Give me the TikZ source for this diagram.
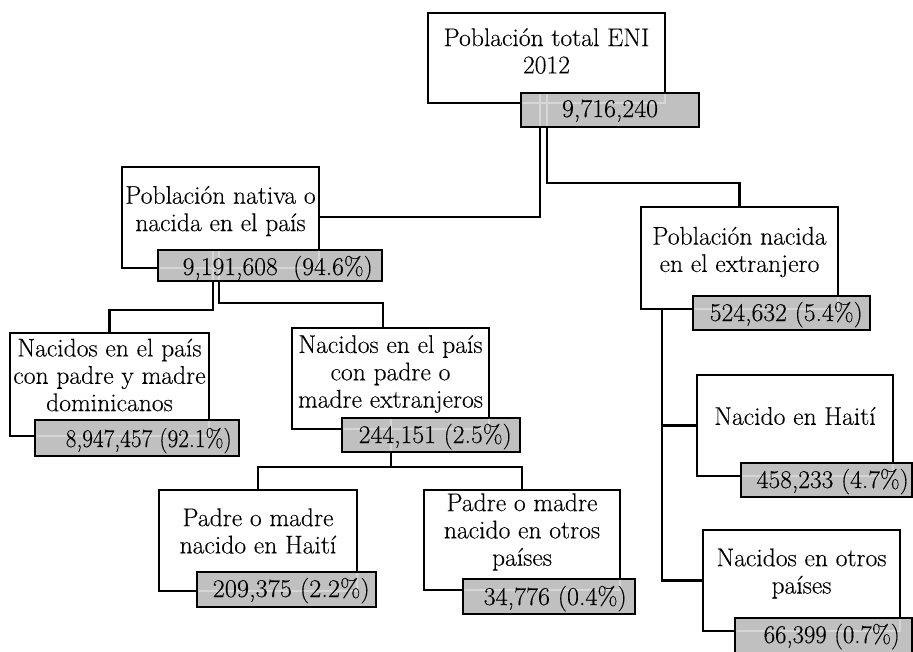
\documentclass[tikz,border=0pt]{standalone}
\usepackage{fontspec}
\usepackage{graphicx}
\newfontfamily\heavy{Latin Modern Roman}[FakeBold=0.2]
\definecolor{boxgray}{RGB}{192,192,192}
\definecolor{lightln}{RGB}{214,214,214}
\newdimen\mypx \mypx=0.75pt
\newcommand\fitw[2]{\resizebox{#1\mypx}{\height}{#2}}
\tikzset{
  wbox/.style={draw=black, fill=white, line width=2pt, inner sep=0pt, outer sep=0pt},
  gbox/.style={draw=black, fill=boxgray, line width=2pt, inner sep=0pt, outer sep=0pt},
  conn/.style={draw=black, line width=1.8pt},
  faint/.style={draw=lightln, line width=1.6pt},
  txt/.style={align=center, inner sep=0pt, font=\heavy\fontsize{19.2}{20.5}\selectfont},
  num/.style={inner sep=0pt, font=\heavy\fontsize{19.2}{20.5}\selectfont}
}
\newcommand\bx[6]{\node[#6, minimum width={(#4-#2)*0.75pt}, minimum height={(#5-#3)*0.75pt}] (#1) at ({(#2+#4)/2},{(#3+#5)/2}) {};}
\newcommand\alllines[1]{%
  \foreach \w in {rootw,natw,domw,padw,phw,pow,extw,nhw,now}{\draw[#1] (\w.north west) rectangle (\w.south east);}
  \draw[#1] (rootg.north -| j1) |- (natw.east |- j1);
  \draw[#1] (rootg.north -| j2) |- (extw.north |- j2) -- (extw.north);
  \draw[#1] (natg.north -| j3) |- (domw.north |- j3) -- (domw.north);
  \draw[#1] (natg.north -| j4) |- (k4 |- j4) -- (k4 |- padw.north);
  \draw[#1] (padg.north -| j5) -- (j5);
  \draw[#1] (phw.north) -- (phw.north |- j5) -- (pow.north |- j5) -- (pow.north);
  \draw[#1] (extw.south -| j6) |- (nhw.west);
  \draw[#1] (extw.south -| j6) |- (now.west);
}
\newcommand\lightin[1]{\begin{scope}\clip ([shift={(1.4,1.4)}]#1.north west) rectangle ([shift={(-1.4,-1.4)}]#1.south east); \alllines{faint}\end{scope}}
\begin{document}
\begin{tikzpicture}[x=0.75pt,y=-0.75pt]
\useasboundingbox (0,0) rectangle (913,651);
% junction coordinates
\coordinate (j1) at (540,217);
\coordinate (j2) at (547,183);
\coordinate (j3) at (213,310);
\coordinate (j4) at (219,303);
\coordinate (k4) at (383,303);
\coordinate (j5) at (391,467);
\coordinate (j6) at (662,309);
% white boxes
\bx{rootw}{428}{13}{665}{103}{wbox}
\bx{natw}{122}{167}{319}{268}{wbox}
\bx{domw}{10}{333}{209}{436}{wbox}
\bx{padw}{292}{328}{489}{429}{wbox}
\bx{phw}{159}{490}{357}{591}{wbox}
\bx{pow}{424}{490}{620}{590}{wbox}
\bx{extw}{641}{207}{838}{309}{wbox}
\bx{nhw}{697}{375}{893}{476}{wbox}
\bx{now}{703}{530}{900}{631}{wbox}
% gray boxes (positions, needed by the connectors)
\bx{rootg}{521}{93}{699}{127}{gbox}
\bx{natg}{158}{250}{382}{281}{gbox}
\bx{domg}{35}{420}{239}{456}{gbox}
\bx{padg}{342}{418}{520}{452}{gbox}
\bx{phg}{197}{572}{376}{607}{gbox}
\bx{pog}{463}{579}{635}{614}{gbox}
\bx{extg}{693}{296}{870}{330}{gbox}
\bx{nhg}{741}{463}{912}{497}{gbox}
\bx{nog}{735}{618}{912}{656}{gbox}
% connectors
\alllines{conn}
% gray boxes on top of the connectors
\bx{rootg}{521}{93}{699}{127}{gbox}
\bx{natg}{158}{250}{382}{281}{gbox}
\bx{domg}{35}{420}{239}{456}{gbox}
\bx{padg}{342}{418}{520}{452}{gbox}
\bx{phg}{197}{572}{376}{607}{gbox}
\bx{pog}{463}{579}{635}{614}{gbox}
\bx{extg}{693}{296}{870}{330}{gbox}
\bx{nhg}{741}{463}{912}{497}{gbox}
\bx{nog}{735}{618}{912}{656}{gbox}
% faint lines showing through gray boxes
\foreach \g in {rootg,natg,domg,padg,phg,pog,extg,nhg,nog}{\lightin{\g}}
% texts
\node[txt] (roott) at (546.5,51) {Población total ENI\\2012};
\node[txt] (natt) at (220.5,211) {Población nativa o\\nacida en el país};
\node[txt] (domt) at (109.5,375) {Nacidos en el país\\con padre y madre\\dominicanos};
\node[txt] (padt) at (390.5,374) {Nacidos en el país\\con padre o\\madre extranjeros};
\node[txt] (pht) at (258,531) {Padre o madre\\nacido en Haití};
\node[txt] (pot) at (522,532) {Padre o madre\\nacido en otros\\países};
\node[txt] (extt) at (739.5,252) {Población nacida\\en el extranjero};
\node[txt] (nht) at (795,416) {Nacido en Haití};
\node[txt] (nott) at (801.5,573.5) {Nacidos en otros\\países};
% numbers
\node[num, anchor=base] (rootn) at (610,117) {\fitw{96}{9,716,240}};
\node[num, anchor=base east] (natn) at (373,275) {\fitw{190}{9,191,608~~(94.6\%)}};
\node[num, anchor=base east] (domn) at (232,447) {\fitw{166}{8,947,457 (92.1\%)}};
\node[num, anchor=base east] (padn) at (512,443) {\fitw{153}{244,151 (2.5\%)}};
\node[num, anchor=base east] (phn) at (370,597) {\fitw{157}{209,375 (2.2\%)}};
\node[num, anchor=base east] (pon) at (627,605) {\fitw{143}{34,776 (0.4\%)}};
\node[num, anchor=base east] (extn) at (863,321) {\fitw{153}{524,632 (5.4\%)}};
\node[num, anchor=base east] (nhn) at (909,488) {\fitw{152}{458,233 (4.7\%)}};
\node[num, anchor=base east] (non) at (900,643) {\fitw{136}{66,399 (0.7\%)}};
\end{tikzpicture}
\end{document}
